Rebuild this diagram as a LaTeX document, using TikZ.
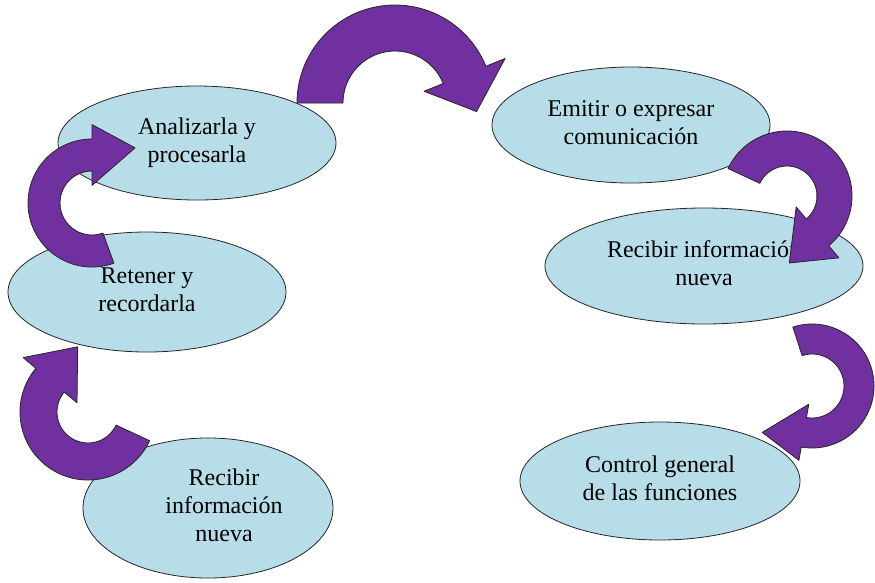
\documentclass[tikz,border=0pt]{standalone}
\usepackage{fontspec}
\setmainfont{Liberation Serif}
\usepackage{tikz}
\usetikzlibrary{shapes.geometric,calc}
\definecolor{celeste}{RGB}{183,221,232}
\definecolor{morado}{RGB}{112,48,160}
\tikzstyle{etapa} = [draw=black!85, fill=celeste, thick, ellipse, inner sep=0pt, align=center, font=\fontsize{24}{28}\selectfont]
\tikzstyle{flecha} = [draw=black!85, fill=morado, thick, line join=round]
\newcommand{\subir}[2]{\raisebox{#1}{\begin{tabular}{@{}c@{}}#2\end{tabular}}}
\newcommand{\flechacurva}[7]{%
	\draw[flecha] ($(#1)+(#2:#5)$) arc[start angle=#2, end angle=#3, radius=#5]
		-- ($(#1)+(#3:{#5+0.45*(#5-#4)})$)
		-- ($(#1)+(#6:#7)$)
		-- ($(#1)+(#3:{#4-0.45*(#5-#4)})$)
		-- ($(#1)+(#3:#4)$)
		arc[start angle=#3, end angle=#2, radius=#4] -- cycle;}

\begin{document}
\begin{tikzpicture}[x=1pt, y=1pt]
	\useasboundingbox (0,0) rectangle (875,-582);
	\node[etapa, minimum width=278, minimum height=114](analizar) at (197,-143) {\subir{3pt}{Analizarla y\\procesarla}};
	\node[etapa, minimum width=278, minimum height=120](retener) at (147,-292) {\subir{5pt}{Retener y\\recordarla}};
	\node[etapa, minimum width=250, minimum height=140](recibiruno) at (208,-508) {\hspace*{32pt}\subir{0pt}{Recibir\\información\\nueva}};
	\node[etapa, minimum width=278, minimum height=116](emitir) at (631,-125) {\subir{7pt}{Emitir o expresar\\comunicación}};
	\node[etapa, minimum width=318, minimum height=116](recibirdos) at (704,-266) {\subir{6pt}{Recibir información\\nueva}};
	\node[etapa, minimum width=280, minimum height=118](control) at (660,-481) {\subir{8pt}{Control general\\de las funciones}};

	\coordinate (giroA) at (395,-103);
	\coordinate (giroB) at (787,-196);
	\coordinate (giroC) at (812,-386);
	\coordinate (giroD) at (88,-412);
	\coordinate (giroE) at (92,-203);
	\flechacurva{giroA}{180}{22}{52}{98}{-6}{82}
	\flechacurva{giroB}{155}{-50}{30}{65}{-88}{67}
	\flechacurva{giroC}{108}{-100}{32}{62}{-137}{68}
	\flechacurva{giroD}{-25}{-220}{31}{68}{-261}{66}
	\flechacurva{giroE}{-70}{-270}{32}{64}{-308}{70}
\end{tikzpicture}
\end{document}
